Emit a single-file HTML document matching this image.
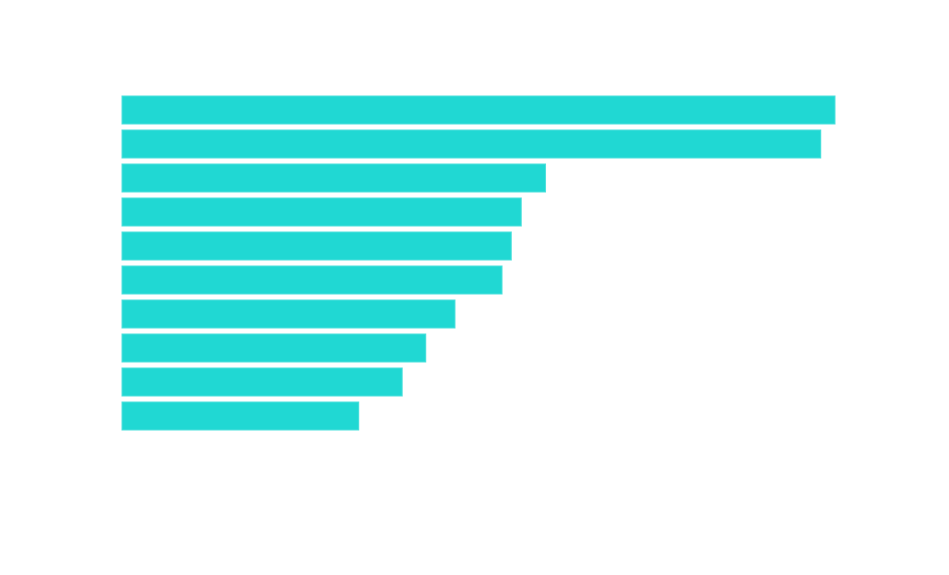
<!DOCTYPE html>
<html>
<head>
<meta charset="utf-8">
<style>
  html,body{margin:0;padding:0;background:#fff;}
  body{width:949px;height:570px;overflow:hidden;font-family:"Liberation Sans",sans-serif;}
</style>
</head>
<body>
<svg id="chart" width="949" height="570" xmlns="http://www.w3.org/2000/svg"></svg>
<script>
const categories = ["c1","c2","c3","c4","c5","c6","c7","c8","c9","c10"];
const values = [100, 98.0, 59.4, 56.0, 54.6, 53.3, 46.7, 42.6, 39.3, 33.2];
const xMax = 100;

const svg = document.getElementById('chart');
const left = 122, plotW = 713;
const top0 = 96, step = 34, barH = 28;
function xScale(v){ return left + v / xMax * plotW; }
function yScale(i){ return top0 + i * step; }

categories.forEach((c, i) => {
  const r = document.createElementNS('http://www.w3.org/2000/svg','rect');
  r.setAttribute('x', xScale(0));
  r.setAttribute('y', yScale(i));
  r.setAttribute('width', xScale(values[i]) - xScale(0));
  r.setAttribute('height', barH);
  r.setAttribute('fill', '#20d8d3');
  r.setAttribute('stroke', '#4fe0dc');
  r.setAttribute('stroke-width', '1');
  
  
  svg.appendChild(r);
});
</script>
</body>
</html>
